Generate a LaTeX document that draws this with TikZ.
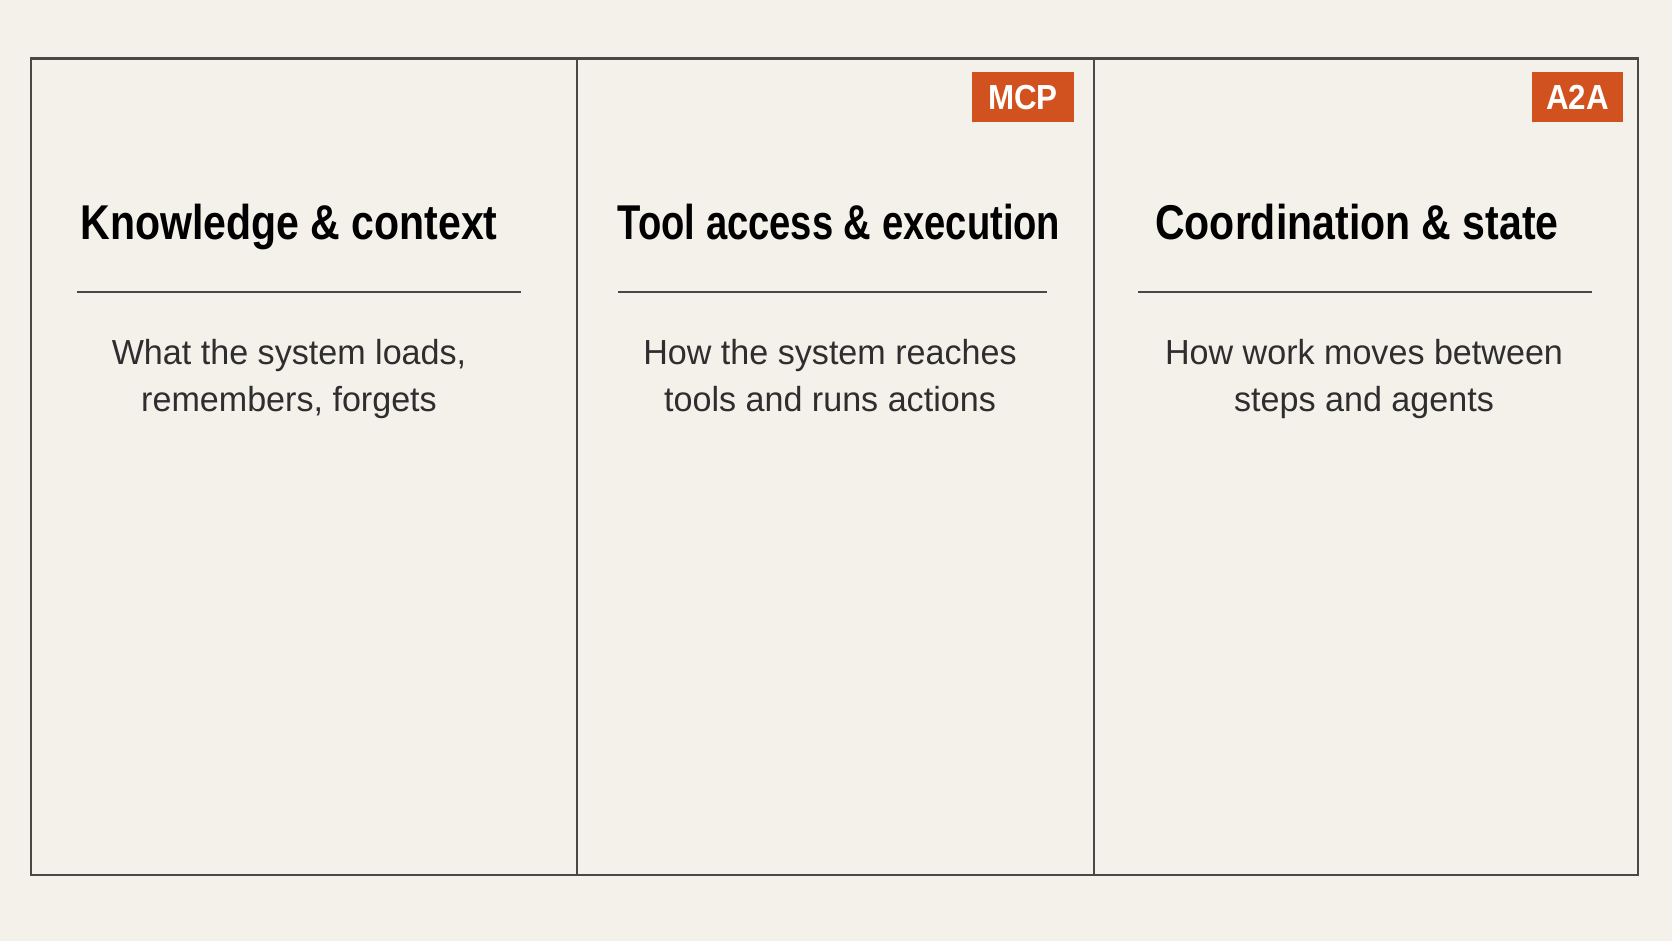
\documentclass[tikz,border=0pt]{standalone}
\usepackage{fontspec}
\setmainfont[FakeStretch=0.98]{Liberation Sans}
\newfontfamily\titlefont[FakeStretch=0.84]{Liberation Sans}
\newfontfamily\tagfont[FakeStretch=0.9]{Liberation Sans}
\definecolor{paper}{HTML}{F4F1EB}
\definecolor{frame}{HTML}{4A4845}
\definecolor{tagred}{HTML}{D1521E}
\definecolor{bodyink}{HTML}{2E2E2E}
\begin{document}
\begin{tikzpicture}[
	panel/.style = {draw = frame, line width = 0.7pt},
	heading/.style = {anchor = base, inner sep = 0pt, font = \titlefont\bfseries\fontsize{13.9}{16}\selectfont, text = black},
	blurb/.style = {anchor = base, inner sep = 0pt, align = center, font = \fontsize{9.9}{13.4}\selectfont, text = bodyink},
	tag/.style = {fill = tagred, text = white, inner sep = 0pt, minimum height = 0.5cm, font = \tagfont\bfseries\fontsize{9.9}{11}\selectfont}
	]
	\fill[paper] (0,0) rectangle (16.72,9.41);
	\useasboundingbox (0,0) rectangle (16.72,9.41);
	% three columns
	\draw[panel] (0.31,0.66) rectangle (16.38,8.825);
	\draw[panel] (5.77,0.66) -- (5.77,8.825);
	\draw[panel] (10.94,0.66) -- (10.94,8.825);
	% headings
	\node[heading] (know) at (2.89,7.01) {Knowledge \& context};
	\node[heading, xscale = 0.93, transform shape] (tool) at (8.39,7.01) {Tool access \& execution};
	\node[heading] (coord) at (13.57,7.01) {Coordination \& state};
	% rules under the headings
	\draw[panel] (0.77,6.49) -- (5.21,6.49);
	\draw[panel] (6.18,6.49) -- (10.47,6.49);
	\draw[panel] (11.38,6.49) -- (15.92,6.49);
	% descriptions
	\node[blurb] (knowtxt) at (2.89,5.29) {What the system loads,\\remembers, forgets};
	\node[blurb] (tooltxt) at (8.30,5.29) {How the system reaches\\tools and runs actions};
	\node[blurb] (coordtxt) at (13.64,5.29) {How work moves between\\steps and agents};
	% protocol tags
	\node[tag, minimum width = 1.02cm] (mcp) at (10.23,8.435) {MCP};
	\node[tag, minimum width = 0.91cm] (a2a) at (15.775,8.435) {A2A};
\end{tikzpicture}
\end{document}
